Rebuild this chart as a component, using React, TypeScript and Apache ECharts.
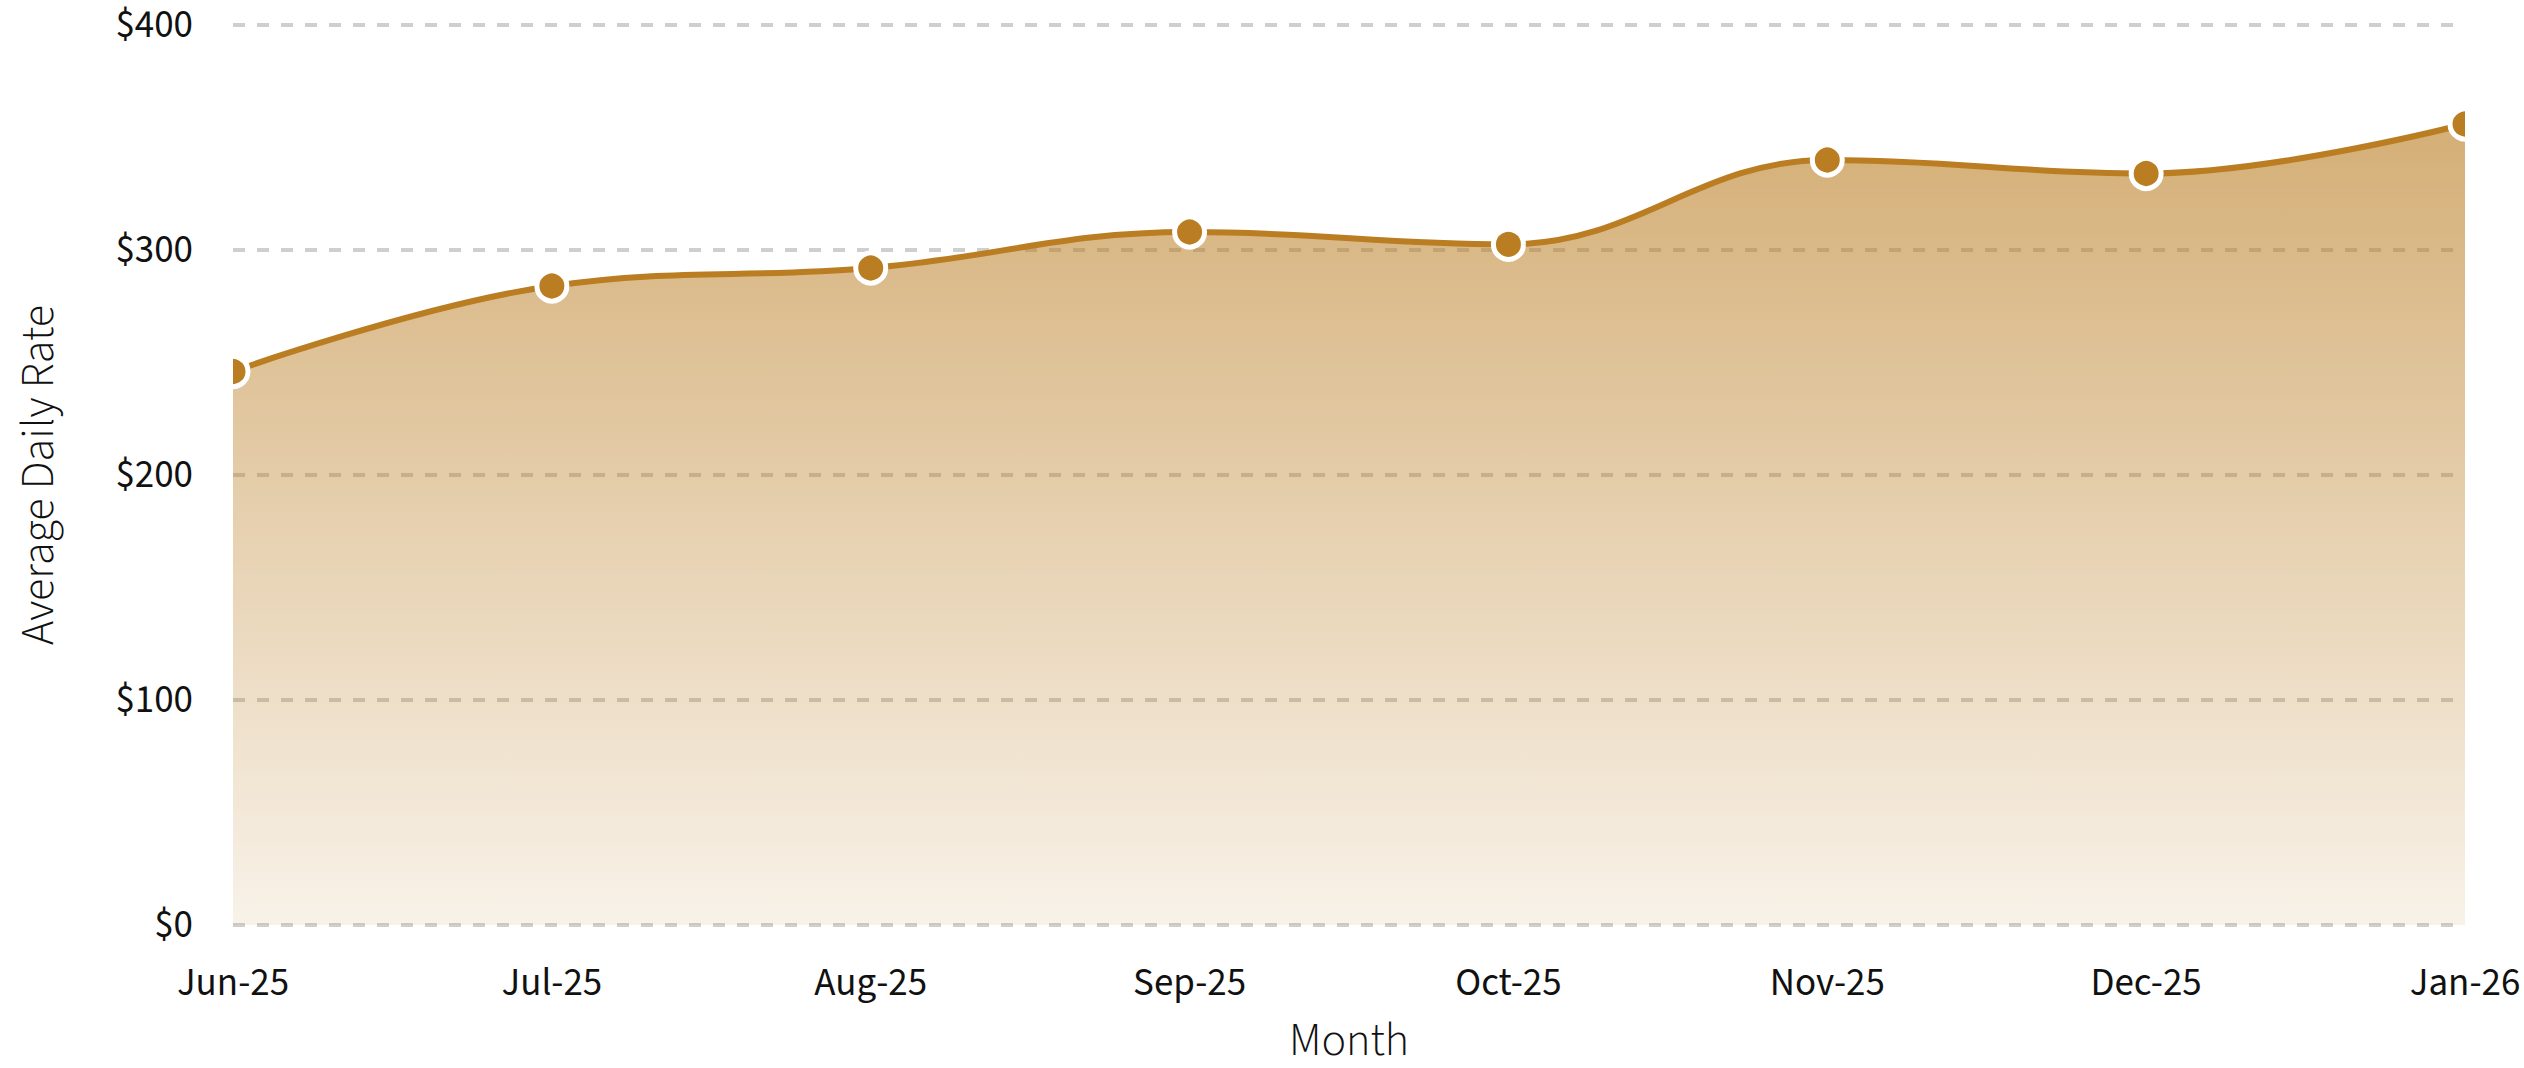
import React, { useEffect, useRef } from "react";
import * as echarts from "echarts";

const months = ["Jun-25", "Jul-25", "Aug-25", "Sep-25", "Oct-25", "Nov-25", "Dec-25", "Jan-26"];
const avgDailyRate = [246, 284, 292, 308, 302.5, 340, 334, 356];
const yTicks = [0, 100, 200, 300, 400];

const FONT = "'Source Sans 3', 'Source Sans Pro', 'Noto Sans', sans-serif";

const GRID = { left: 233, right: 59, top: 25, bottom: 139 };
const W = 2524;
const H = 1068;

export default function App() {
  const ref = useRef<HTMLDivElement>(null);
  useEffect(() => {
    document.body.style.margin = "0";
    const chart = echarts.init(ref.current!, null, { renderer: "svg" });
    chart.setOption({
      animation: false,
      backgroundColor: "#ffffff",
      grid: { ...GRID, containLabel: false },
      xAxis: {
        type: "category",
        data: months,
        boundaryGap: false,
        name: "Month",
        nameLocation: "middle",
        nameGap: 92,
        nameTextStyle: { fontFamily: FONT, fontSize: 46, fontWeight: 300, color: "#111" },
        axisLine: { show: false },
        axisTick: { show: false },
        axisLabel: { fontFamily: FONT, fontSize: 39, color: "#111", margin: 38 },
        splitLine: { show: false },
      },
      yAxis: {
        type: "value",
        min: yTicks[0],
        max: yTicks[yTicks.length - 1],
        interval: 100,
        name: "Average Daily Rate",
        nameLocation: "middle",
        nameGap: 172,
        nameTextStyle: { fontFamily: FONT, fontSize: 46, fontWeight: 300, color: "#111" },
        axisLine: { show: false },
        axisTick: { show: false },
        axisLabel: {
          fontFamily: FONT,
          fontSize: 39,
          color: "#111",
          margin: 40,
          formatter: (v: number) => "$" + v,
        },
        splitLine: { show: true, lineStyle: { color: "#cfcfcf", width: 4, type: [12, 12] } },
      },
      graphic: [
        {
          type: "rect",
          z: 100,
          shape: { x: 200, y: GRID.top - 20, width: GRID.left - 200, height: H - GRID.top - GRID.bottom + 20 },
          style: { fill: "#ffffff" },
        },
        {
          type: "rect",
          z: 100,
          shape: { x: W - GRID.right, y: 0, width: GRID.right, height: H - GRID.bottom },
          style: { fill: "#ffffff" },
        },
      ],
      series: [
        {
          type: "line",
          data: avgDailyRate,
          smooth: 0.4,
          symbol: "circle",
          symbolSize: 30,
          lineStyle: { color: "#BA7D22", width: 6 },
          itemStyle: { color: "#BA7D22", borderColor: "#ffffff", borderWidth: 5 },
          areaStyle: {
            opacity: 1,
            color: new echarts.graphic.LinearGradient(0, 0, 0, 1, [
              { offset: 0, color: "rgba(186,125,34,0.62)" },
              { offset: 1, color: "rgba(186,125,34,0.1)" },
            ]),
          },
        },
      ],
    });
    return () => chart.dispose();
  }, []);
  return <div ref={ref} style={{ position: "absolute", left: 0, top: 0, width: W, height: H }} />;
}
